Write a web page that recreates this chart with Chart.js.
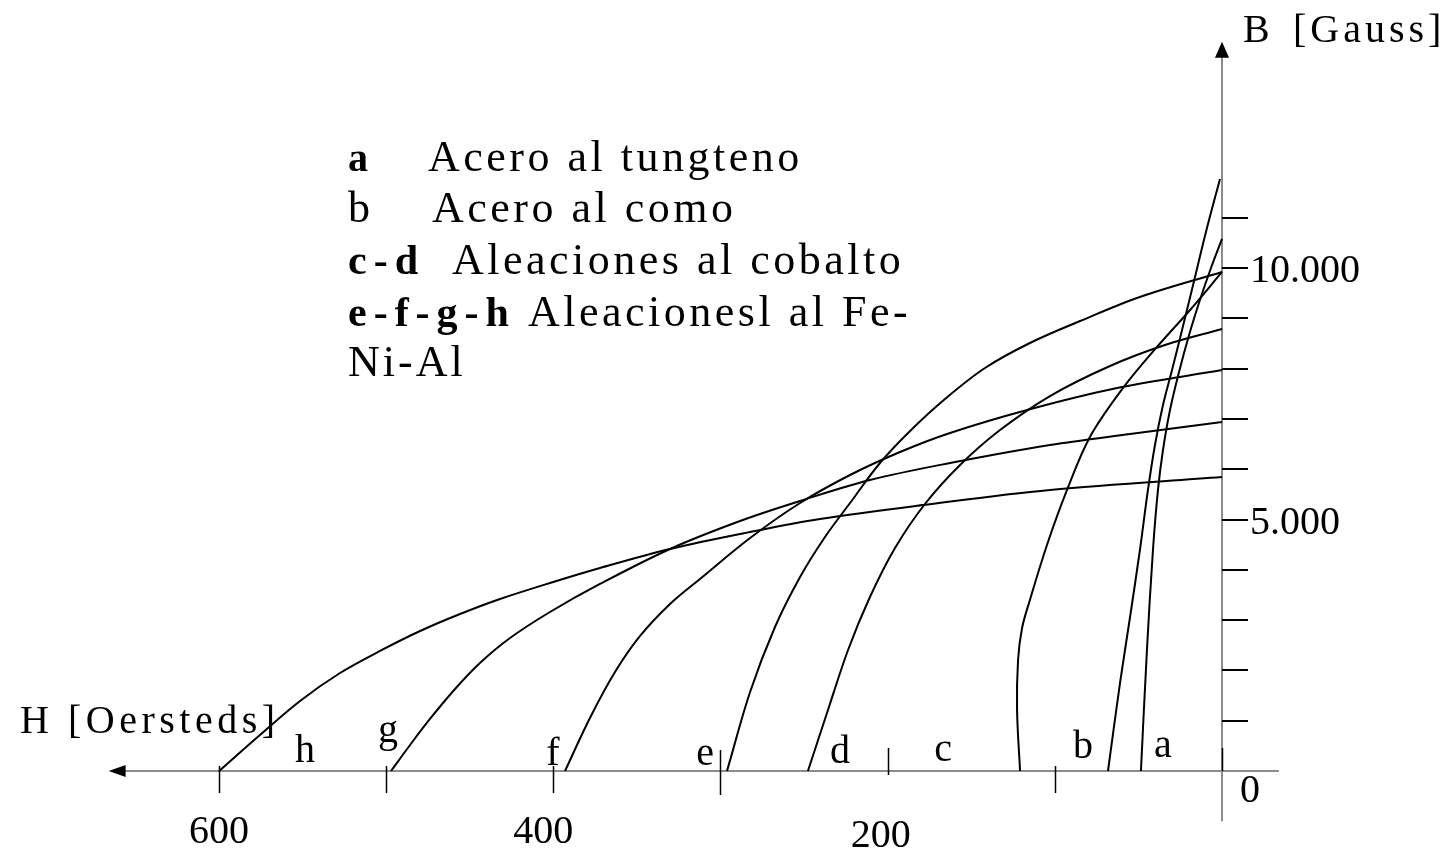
<!DOCTYPE html>
<html>
<head>
<meta charset="utf-8">
<script src="https://cdn.jsdelivr.net/npm/chart.js@4/dist/chart.umd.min.js"></script>
<style>
  html, body { margin: 0; padding: 0; background: #fff; }
  #wrap { position: relative; width: 1445px; height: 848px; }
</style>
</head>
<body>
<div id="wrap"><canvas id="chart"></canvas></div>
<script>
// Demagnetization curves, H [Oersteds] vs B [Gauss], pairs are [H, B]
const curveA = [[48.5, 0], [44.9, 2406], [41.3, 4394], [38.3, 5587], [35.3, 6382], [31.1, 7177], [25.7, 7932], [19.7, 8668], [13.2, 9364], [6.6, 10000], [0, 10577]];
const curveB = [[68.2, 0], [61.0, 1750], [55.0, 3062], [49.1, 4394], [44.3, 5587], [40.1, 6481], [35.3, 7276], [29.9, 7972], [23.9, 8768], [17.3, 9662], [9.6, 10716], [1.2, 11770]];
const curveC = [[120.8, 0], [122.6, 1213], [122.0, 2207], [119.6, 2843], [114.9, 3400], [104.7, 4493], [92.7, 5587], [79.0, 6640], [59.2, 7614], [38.9, 8430], [19.1, 9165], [0, 9921]];
const curveD = [[247.7, 0], [235.7, 1213], [223.7, 2406], [210.6, 3459], [195.6, 4433], [177.7, 5308], [156.7, 6084], [132.8, 6779], [102.9, 7455], [67.0, 8052], [34.1, 8469], [0, 8787]];
const curveE = [[296.1, 0], [282.3, 1571], [267.4, 2863], [252.4, 3857], [237.5, 4652], [222.5, 5328], [204.6, 6123], [186.6, 6760], [165.7, 7396], [141.8, 8012], [114.9, 8509], [84.9, 8946], [49.1, 9424], [0, 9921]];
const curveF = [[393.0, 0], [378.1, 1054], [363.1, 1968], [348.1, 2684], [330.2, 3320], [312.3, 3817], [282.3, 4632], [252.4, 5328], [222.5, 5885], [192.6, 6342], [162.7, 6720], [116.6, 7177], [62.8, 7614], [0, 7972]];
const curveG = [[497.1, 0], [485.7, 517], [473.8, 1034], [458.8, 1630], [443.9, 2147], [425.9, 2644], [402.0, 3161], [372.1, 3718], [330.2, 4414], [288.3, 4970], [252.4, 5368], [210.6, 5785], [162.7, 6123], [102.9, 6481], [55.0, 6700], [0, 6938]];
const curveH = [[600.0, 0], [575.5, 716], [551.5, 1392], [527.6, 1948], [503.7, 2386], [479.7, 2783], [455.8, 3121], [431.9, 3420], [402.0, 3738], [372.1, 4036], [330.2, 4414], [282.3, 4752], [240.5, 5010], [178.9, 5288], [102.9, 5587], [0, 5845]];

const curveNames = ['a', 'b', 'c', 'd', 'e', 'f', 'g', 'h'];
const curves = [curveA, curveB, curveC, curveD, curveE, curveF, curveG, curveH];

// Axis ticks and labels
const hTicks = [100, 200, 300, 400, 500, 600];
const hTickLabels = [[600, '600'], [400, '400'], [200, '200']];
const bTicks = [1000, 2000, 3000, 4000, 5000, 6000, 7000, 8000, 9000, 10000, 11000];
const bTickLabels = [[10000, '10.000'], [5000, '5.000']];

const legendRows = [
    ['a', 'Acero al tungteno'],
    ['b', 'Acero al como'],
    ['c-d', 'Aleaciones al cobalto'],
    ['e-f-g-h', 'Aleacionesl al Fe-'],
    ['Ni-Al', '']
];

const SERIF = "'Liberation Serif', 'Times New Roman', serif";
const AXIS_GRAY = '#8c8c8c';

// letter placement next to each curve foot: x offset, baseline above the H axis
const LETTER_POS = {
    a: [22, -14], b: [-25, -13], c: [-77, -10], d: [32, -8],
    e: [-22, -6], f: [-12, -6], g: [-3, -29], h: [86, -9]
};
// legend layout: key column, text column, baseline of each row
const LEGEND_KEY_X = 348;
const LEGEND_TEXT_X = [428, 432, 452, 528, 0];
const LEGEND_BASE_Y = [171, 222, 274, 326, 376];

function drawArrow(ctx, tipX, tipY, dirX, dirY, len, half) {
    const bx = tipX - dirX * len, by = tipY - dirY * len;
    ctx.beginPath();
    ctx.moveTo(tipX, tipY);
    ctx.lineTo(bx + dirY * half, by - dirX * half);
    ctx.lineTo(bx - dirY * half, by + dirX * half);
    ctx.closePath();
    ctx.fill();
}

const axesPlugin = {
    id: 'crossAxes',
    beforeDatasetsDraw(chart) {
        const { ctx, scales: { x, y } } = chart;
        const x0 = x.getPixelForValue(0);
        const y0 = y.getPixelForValue(0);
        ctx.save();

        // H axis, arrow pointing left
        ctx.strokeStyle = AXIS_GRAY;
        ctx.lineWidth = 2;
        ctx.beginPath();
        ctx.moveTo(x.getPixelForValue(x.max) + 14, y0);
        ctx.lineTo(x.getPixelForValue(x.min), y0);
        ctx.stroke();
        // B axis, arrow pointing up
        ctx.beginPath();
        ctx.moveTo(x0, y.getPixelForValue(y.min));
        ctx.lineTo(x0, y.getPixelForValue(y.max) + 14);
        ctx.stroke();
        ctx.fillStyle = '#000';
        drawArrow(ctx, x.getPixelForValue(x.max), y0, -1, 0, 17, 6);
        drawArrow(ctx, x0, y.getPixelForValue(y.max), 0, -1, 16, 7);

        // H ticks
        ctx.strokeStyle = '#000';
        ctx.lineWidth = 1.5;
        hTicks.forEach(v => {
            const px = Math.round(x.getPixelForValue(v)) + 0.5;
            let top = y0 - 5, bottom = y0 + 22;
            if (v === 200) { top = y0 - 23; bottom = y0 + 4; }
            if (v === 300) { top = y0 - 21; bottom = y0 + 24; }
            ctx.beginPath();
            ctx.moveTo(px, top);
            ctx.lineTo(px, bottom);
            ctx.stroke();
        });
        ctx.beginPath();
        ctx.moveTo(x0 + 0.5, y0 - 23);
        ctx.lineTo(x0 + 0.5, y0);
        ctx.stroke();

        // B ticks on the right of the axis
        ctx.lineWidth = 2;
        bTicks.forEach(v => {
            const py = Math.round(y.getPixelForValue(v));
            ctx.beginPath();
            ctx.moveTo(x0, py);
            ctx.lineTo(x0 + 26, py);
            ctx.stroke();
        });

        // tick labels
        ctx.fillStyle = '#000';
        ctx.font = '40px ' + SERIF;
        ctx.textBaseline = 'alphabetic';
        ctx.textAlign = 'center';
        hTickLabels.forEach(([v, txt]) => {
            const dx = v === 200 ? -7 : (v === 400 ? -10 : 0);
            const dy = v === 200 ? 76 : 72;
            ctx.fillText(txt, x.getPixelForValue(v) + dx, y0 + dy);
        });
        ctx.textAlign = 'left';
        bTickLabels.forEach(([v, txt]) => {
            ctx.fillText(txt, x0 + 28, y.getPixelForValue(v) + 14);
        });
        ctx.fillText('0', x0 + 18, y0 + 31);

        // axis titles
        ctx.fillText('B', x0 + 21, 42);
        ctx.fillText('H', 20, y0 - 38);
        ctx.font = '40px ' + SERIF;
        ctx.letterSpacing = '4px';
        ctx.fillText('[Gauss]', x0 + 71, 42);
        ctx.letterSpacing = '4.5px';
        ctx.fillText('[Oersteds]', 68, y0 - 38);

        // curve letters
        ctx.letterSpacing = '0px';
        ctx.font = '40px ' + SERIF;
        ctx.textAlign = 'center';
        curves.forEach((c, i) => {
            const name = curveNames[i];
            const [dx, dy] = LETTER_POS[name];
            ctx.fillText(name, x.getPixelForValue(c[0][0]) + dx, y0 + dy);
        });

        // legend
        ctx.textAlign = 'left';
        legendRows.forEach(([key, txt], i) => {
            const by = LEGEND_BASE_Y[i];
            if (i === 0) {
                ctx.font = 'bold 40px ' + SERIF;
                ctx.letterSpacing = '0px';
            } else if (i === 2 || i === 3) {
                ctx.font = 'bold 42px ' + SERIF;
                ctx.letterSpacing = '7px';
            } else {
                ctx.font = '44px ' + SERIF;
                ctx.letterSpacing = '3px';
            }
            ctx.fillText(key, LEGEND_KEY_X, by);
            if (txt) {
                ctx.font = '44px ' + SERIF;
                ctx.letterSpacing = '3.5px';
                ctx.fillText(txt, LEGEND_TEXT_X[i], by);
            }
        });
        ctx.restore();
    }
};

const datasets = curves.map((c, i) => ({
    label: curveNames[i],
    data: c.map(([h, b]) => ({ x: h, y: b })),
    borderColor: '#000',
    borderWidth: 2,
    pointRadius: 0,
    tension: 0.35,
    fill: false,
}));

new Chart(document.getElementById('chart'), {
    type: 'line',
    data: { datasets },
    options: {
        responsive: true,
        maintainAspectRatio: false,
        animation: false,
        layout: { padding: { left: 108.65, right: 166.16, top: 41.65, bottom: 26.7 } },
        scales: {
            x: { type: 'linear', reverse: true, min: -34, max: 666, display: false },
            y: { type: 'linear', min: -1000, max: 14500, display: false }
        },
        plugins: {
            legend: { display: false },
            tooltip: { enabled: false }
        },
        clip: false
    },
    plugins: [axesPlugin]
});
</script>
</body>
</html>
